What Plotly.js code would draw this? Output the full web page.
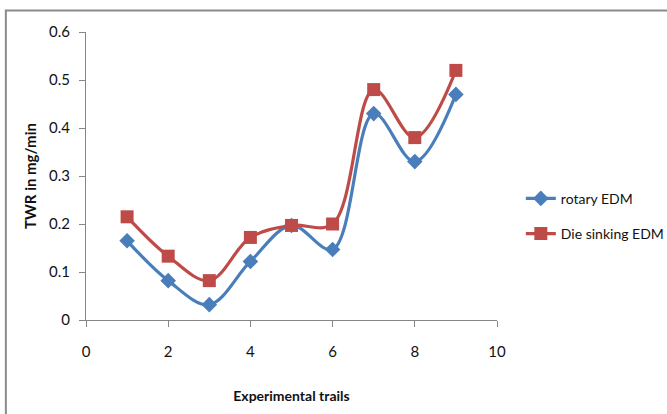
<!DOCTYPE html>
<html>
<head>
<meta charset="utf-8">
<script src="https://cdn.plot.ly/plotly-3.0.1.min.js"></script>
<style>
  html, body { margin: 0; padding: 0; background: #ffffff; }
  #chart { width: 667px; height: 414px; }
</style>
</head>
<body>
<div id="chart"></div>
<script>
// Experimental trail numbers
const trials = [1, 2, 3, 4, 5, 6, 7, 8, 9];
// Tool wear rate (mg/min) for each process
const rotaryEDM = [0.165, 0.082, 0.032, 0.122, 0.197, 0.147, 0.43, 0.33, 0.47];
const dieSinkingEDM = [0.215, 0.133, 0.082, 0.172, 0.197, 0.2, 0.48, 0.38, 0.52];
// Axis tick values
const xTicks = [0, 2, 4, 6, 8, 10];
const yTicks = [0, 0.1, 0.2, 0.3, 0.4, 0.5, 0.6];

const font = 'Lato, "Open Sans", sans-serif';

const traces = [
  {
    x: trials, y: rotaryEDM, name: 'rotary EDM', type: 'scatter', mode: 'lines+markers',
    line: { color: '#4a7ebb', width: 3.2, shape: 'spline', smoothing: 1 },
    marker: { symbol: 'diamond', size: 12, color: '#4a7ebb' },
    legendgroup: 'a'
  },
  {
    x: trials, y: dieSinkingEDM, name: 'Die sinking EDM', type: 'scatter', mode: 'lines+markers',
    line: { color: '#be4b48', width: 3.2, shape: 'spline', smoothing: 1 },
    marker: { symbol: 'square', size: 13, color: '#be4b48' },
    legendgroup: 'b'
  }
];

const layout = {
  width: 667, height: 414,
  margin: { l: 86, r: 170, t: 32, b: 94, autoexpand: false },
  paper_bgcolor: '#ffffff', plot_bgcolor: '#ffffff',
  font: { family: font, size: 14, color: '#111111' },
  showlegend: true,
  legend: {
    x: 1.058, y: 0.36, xanchor: 'left', yanchor: 'middle',
    traceorder: 'grouped', tracegroupgap: 14, itemwidth: 30,
    font: { family: font, size: 14, color: '#111111' },
    bgcolor: 'rgba(0,0,0,0)'
  },
  xaxis: {
    range: [0, 10], tickvals: xTicks, ticktext: xTicks.map(String),
    showgrid: false, zeroline: false, showline: true, linecolor: '#868686', linewidth: 1,
    ticks: 'outside', ticklen: 6, tickcolor: '#868686', ticklabelstandoff: 12,
    tickfont: { family: font, size: 15 },
    title: { text: '<b>Experimental trails</b>', font: { family: font, size: 14 }, standoff: 32 }
  },
  yaxis: {
    range: [0, 0.6], tickvals: yTicks, ticktext: yTicks.map(v => String(v)),
    showgrid: false, zeroline: false, showline: true, linecolor: '#868686', linewidth: 1,
    ticks: 'outside', ticklen: 6, tickcolor: '#868686', ticklabelstandoff: 6,
    tickfont: { family: font, size: 15 },
    title: { text: '<b>TWR in mg/min</b>', font: { family: font, size: 15 }, standoff: 8 }
  },
  shapes: [
    {
      type: 'rect', xref: 'paper', yref: 'paper',
      x0: -0.195, x1: 1.5, y0: -0.5, y1: 1.075,
      line: { color: '#8a8a8a', width: 2 }, fillcolor: 'rgba(0,0,0,0)', layer: 'below'
    }
  ]
};

Plotly.newPlot('chart', traces, layout, { displayModeBar: false, staticPlot: true });
</script>
</body>
</html>
